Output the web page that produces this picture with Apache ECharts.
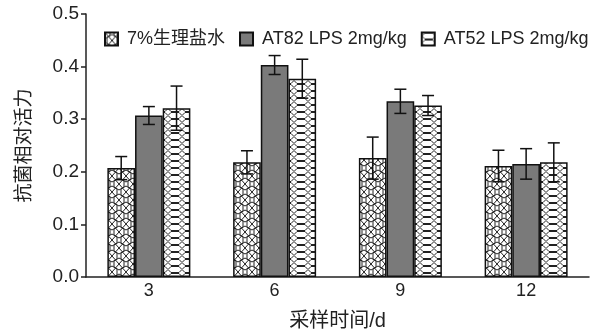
<!DOCTYPE html>
<html>
<head>
<meta charset="utf-8">
<script src="https://cdn.jsdelivr.net/npm/echarts@6/dist/echarts.min.js"></script>
<style>html,body{margin:0;padding:0;background:#fff}#c{width:600px;height:336px}</style>
</head>
<body>
<div id="c"></div>
<script>
// ---- data ----
const categories = ['3', '6', '9', '12'];
const seriesNames = ['7%生理盐水', 'AT82 LPS 2mg/kg', 'AT52 LPS 2mg/kg'];
const salineMean = [0.207, 0.218, 0.226, 0.211];
const salineErr  = [0.022, 0.022, 0.040, 0.030];
const at82Mean   = [0.307, 0.403, 0.334, 0.215];
const at82Err    = [0.017, 0.018, 0.023, 0.029];
const at52Mean   = [0.321, 0.377, 0.326, 0.218];
const at52Err    = [0.042, 0.037, 0.019, 0.037];
const yMin = 0, yMax = 0.5, yStep = 0.1;
const xAxisName = '采样时间/d';
const yAxisName = '抗菌相对活力';

// ---- patterns ----
function makeStarPattern() {
  const w = 14, h = 16;
  const c = document.createElement('canvas');
  c.width = w; c.height = h;
  const g = c.getContext('2d');
  g.fillStyle = '#fff'; g.fillRect(0, 0, w, h);
  g.strokeStyle = '#222'; g.lineWidth = 1;
  g.beginPath();
  g.moveTo(0, 0); g.lineTo(w, h);
  g.moveTo(w, 0); g.lineTo(0, h);
  const hex = (cx, cy) => {
    const pts = [[0, -6], [5, -3], [5, 3], [0, 6], [-5, 3], [-5, -3]];
    g.moveTo(cx + pts[0][0], cy + pts[0][1]);
    for (let i = 1; i <= 6; i++) g.lineTo(cx + pts[i % 6][0], cy + pts[i % 6][1]);
  };
  hex(w / 2, h / 2); hex(0, 0); hex(w, 0); hex(0, h); hex(w, h);
  g.stroke();
  return c;
}
function makeHexPattern() {
  const w = 14, h = 7;
  const c = document.createElement('canvas');
  c.width = w; c.height = h;
  const g = c.getContext('2d');
  g.fillStyle = '#fff'; g.fillRect(0, 0, w, h);
  g.strokeStyle = '#222'; g.lineWidth = 1;
  g.beginPath();
  g.moveTo(0, 3.5); g.lineTo(3, 0.5); g.lineTo(11, 0.5); g.lineTo(14, 3.5);
  g.lineTo(11, 6.5); g.lineTo(3, 6.5); g.closePath();
  g.stroke();
  return c;
}
const fills = [
  { image: makeStarPattern(), repeat: 'repeat' },
  '#7a7a7a',
  { image: makeHexPattern(), repeat: 'repeat' }
];
const means = [salineMean, at82Mean, at52Mean];
const errs = [salineErr, at82Err, at52Err];
const barFrac = 0.22;
const font = '"Liberation Sans", Arial, "Noto Sans CJK SC", sans-serif';

const series = [];
means.forEach((m, k) => {
  series.push({
    name: seriesNames[k], type: 'bar', data: m,
    barWidth: (barFrac * 100) + '%', barGap: '0%',
    itemStyle: { color: fills[k], borderColor: '#111', borderWidth: 1.5 },
    z: 2
  });
});
means.forEach((m, k) => {
  series.push({
    name: 'err' + k, type: 'custom', z: 5, clip: false,
    encode: { x: 0, y: 1 },
    data: m.map((v, i) => [i, v, errs[k][i]]),
    renderItem: (params, api) => {
      const i = api.value(0), v = api.value(1), e = api.value(2);
      const bandW = api.size([1, 0])[0];
      const x = api.coord([i, v])[0] + (k - 1) * bandW * barFrac;
      const yt = api.coord([i, v + e])[1];
      const yb = api.coord([i, v - e])[1];
      const cap = 6;
      const st = { stroke: '#111', lineWidth: 1.5 };
      return {
        type: 'group',
        children: [
          { type: 'line', shape: { x1: x, y1: yt, x2: x, y2: yb }, style: st },
          { type: 'line', shape: { x1: x - cap, y1: yt, x2: x + cap, y2: yt }, style: st },
          { type: 'line', shape: { x1: x - cap, y1: yb, x2: x + cap, y2: yb }, style: st }
        ]
      };
    }
  });
});

const chart = echarts.init(document.getElementById('c'), null, { renderer: 'canvas' });
chart.setOption({
  animation: false,
  backgroundColor: '#fff',
  grid: { left: 86, right: 11, top: 14, bottom: 57 },
  legend: {
    data: seriesNames.map(n => ({ name: n, icon: 'rect' })), left: 99, top: 25,
    itemWidth: 13, itemHeight: 13, itemGap: 14,
    textStyle: { fontFamily: font, fontSize: 18, color: '#222', padding: [0, 0, 0, 4] }
  },
  xAxis: {
    type: 'category', data: categories,
    name: xAxisName, nameLocation: 'middle', nameGap: 34,
    nameTextStyle: { fontFamily: font, fontSize: 20, color: '#222' },
    axisLine: { lineStyle: { color: '#222', width: 1.5 } },
    axisTick: { inside: true, length: 6, lineStyle: { color: '#222', width: 1.5 } },
    axisLabel: { fontFamily: font, fontSize: 18, color: '#222', margin: 5 }
  },
  yAxis: {
    type: 'value', min: yMin, max: yMax, interval: yStep,
    name: yAxisName, nameLocation: 'middle', nameGap: 52,
    nameTextStyle: { fontFamily: font, fontSize: 19, color: '#222' },
    axisLine: { show: true, lineStyle: { color: '#222', width: 1.5 } },
    axisTick: { show: true, length: 5, lineStyle: { color: '#222', width: 1.5 } },
    splitLine: { show: false },
    axisLabel: { fontFamily: font, fontSize: 19, color: '#222', margin: 7,
      formatter: v => v.toFixed(1) }
  },
  series: series
});
</script>
</body>
</html>
